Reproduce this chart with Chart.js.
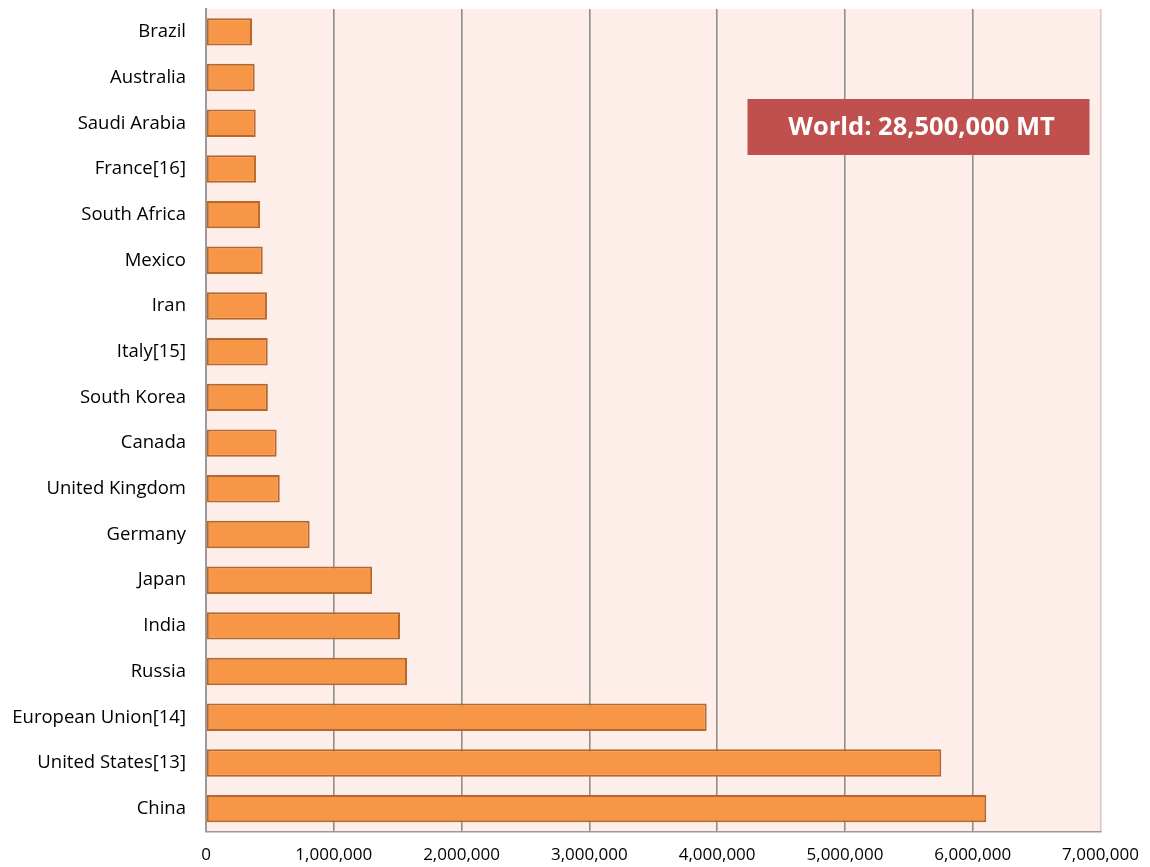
<!DOCTYPE html>
<html lang="en">
<head>
    <meta charset="UTF-8">
    <title>Steel production by country</title>
    <script src="https://cdn.jsdelivr.net/npm/chart.js@4"></script>
    <style>
        html, body { margin: 0; padding: 0; background: #ffffff; }
        .chart-box { width: 1150px; height: 867px; }
    </style>
</head>
<body>
    <div class="chart-box">
        <canvas id="productionChart"></canvas>
    </div>
    <script>
        const countries = [
            "Brazil", "Australia", "Saudi Arabia", "France[16]", "South Africa", "Mexico",
            "Iran", "Italy[15]", "South Korea", "Canada", "United Kingdom", "Germany",
            "Japan", "India", "Russia", "European Union[14]", "United States[13]", "China"
        ];
        const tonnes = [
            360000, 381000, 389000, 391000, 423000, 444000,
            477000, 483000, 484000, 553000, 577000, 811000,
            1300000, 1518000, 1573000, 3918000, 5754000, 6106000
        ];
        const worldLabel = "World: 28,500,000 MT";

        const axisFont = "'Open Sans', 'Noto Sans', sans-serif";

        // pale fill behind the bars
        const plotBackground = {
            id: "plotBackground",
            beforeDraw(chart) {
                const { ctx, chartArea: a } = chart;
                ctx.save();
                ctx.fillStyle = "#fdeeea";
                ctx.fillRect(a.left, a.top, a.right - a.left, a.bottom - a.top);
                ctx.restore();
            }
        };

        // red box with the world total
        const worldBox = {
            id: "worldBox",
            afterDraw(chart) {
                const { ctx, chartArea: a } = chart;
                const w = 342, h = 56;
                const x = a.right - 11 - w;
                const y = a.top + 90;
                ctx.save();
                ctx.fillStyle = "#c0504d";
                ctx.fillRect(x, y, w, h);
                ctx.fillStyle = "#ffffff";
                ctx.font = "bold 25.5px " + axisFont;
                ctx.textAlign = "center";
                ctx.textBaseline = "middle";
                ctx.fillText(worldLabel, x + w / 2 + 3, y + h / 2 + 1);
                ctx.restore();
            }
        };

        new Chart("productionChart", {
            type: "bar",
            data: {
                labels: countries,
                datasets: [{
                    data: tonnes,
                    backgroundColor: "#f79646",
                    borderColor: "#b6682c",
                    borderWidth: 2,
                    borderSkipped: false,
                    barPercentage: 0.6,
                    categoryPercentage: 1
                }]
            },
            options: {
                indexAxis: "y",
                responsive: true,
                maintainAspectRatio: false,
                animation: false,
                layout: { padding: { top: 9, right: 49.5, left: 0, bottom: 0 } },
                plugins: {
                    legend: { display: false },
                    tooltip: { enabled: false }
                },
                scales: {
                    x: {
                        min: 0,
                        max: 7000000,
                        afterFit(scale) {
                            scale.height = 35.5;
                            scale.paddingLeft = 0;
                            scale.paddingRight = 0;
                        },
                        ticks: {
                            stepSize: 1000000,
                            padding: 13,
                            maxRotation: 0,
                            color: "#000000",
                            font: { family: axisFont, size: 17 },
                            callback: v => v.toLocaleString("en-US")
                        },
                        grid: {
                            color: ctx => ctx.index === 7 ? "#dcc9c5" : "#8e8e8e",
                            lineWidth: 1.6,
                            drawTicks: false
                        },
                        border: { color: "#9a9a9a", width: 1.6 }
                    },
                    y: {
                        afterFit(scale) {
                            scale.width = 206;
                            scale.paddingTop = 0;
                            scale.paddingBottom = 0;
                        },
                        ticks: {
                            padding: 20,
                            color: "#000000",
                            font: { family: axisFont, size: 18.5 }
                        },
                        grid: { display: false, drawTicks: false },
                        border: { color: "#9a9a9a", width: 2 }
                    }
                }
            },
            plugins: [plotBackground, worldBox]
        });
    </script>
</body>
</html>
